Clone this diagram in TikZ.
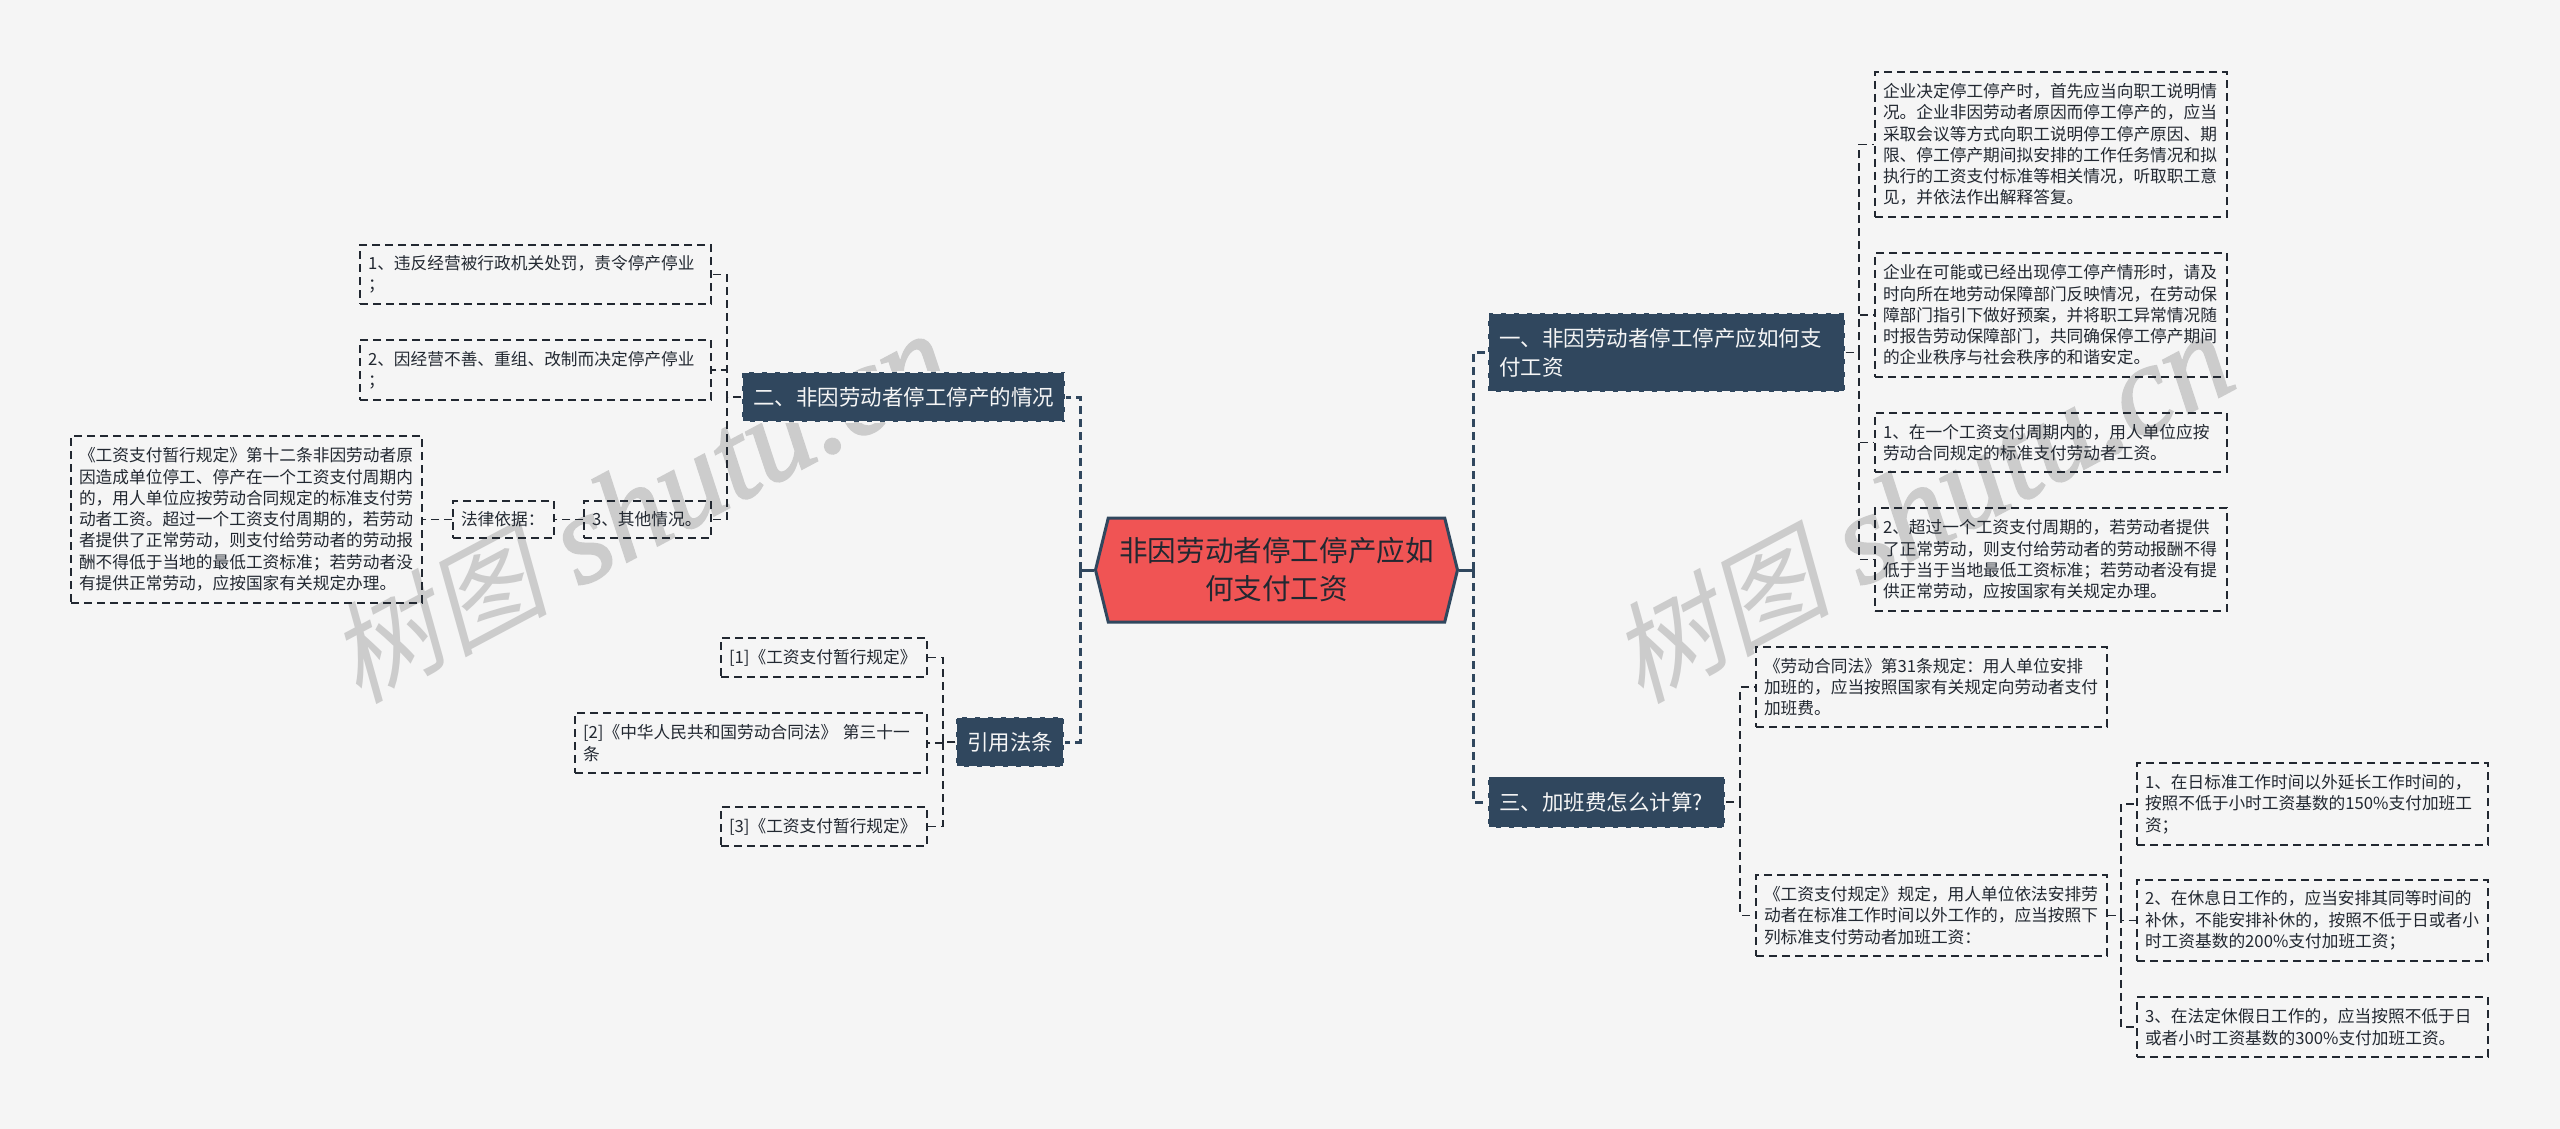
\documentclass[tikz,border=0pt]{standalone}
\usepackage{fontspec}
\setmainfont{Noto Sans CJK SC}
\newfontfamily\wmcjk[FakeSlant=0.22]{Noto Sans CJK SC}
\newfontfamily\wmlat[ItalicFeatures={FakeBold=1.5}]{Liberation Serif}
\usetikzlibrary{calc,shapes.symbols}
\definecolor{bgc}{HTML}{F5F5F5}
\definecolor{navy}{HTML}{30475E}
\definecolor{redc}{HTML}{F05454}
\definecolor{inkc}{HTML}{222831}
\definecolor{wmc}{HTML}{CCCCCC}
\newcommand{\zc}{^^^^ff0c}
\newcommand{\zm}{^^^^ff1a}
\newcommand{\zs}{^^^^ff1b}
\tikzset{
  leafbox/.style 2 args={draw=inkc,line width=1.4pt,dash pattern=on 8pt off 5pt,
    inner xsep=8pt,inner ysep=0pt,text width=#1pt-16pt,minimum height=#2pt,align=left,
    text=inkc,font=\fontsize{16.7pt}{21.3pt}\selectfont},
  branchbox/.style 2 args={fill=navy,draw=bgc,line width=1.5pt,dash pattern=on 8pt off 5pt,
    inner xsep=11pt,inner ysep=0pt,text width=#1pt-22pt,minimum height=#2pt,align=left,
    text=bgc,font=\fontsize{21.5pt}{29pt}\selectfont},
  rootbox/.style={signal,signal to=east and west,signal pointer angle=152.4,
    fill=redc,draw=navy,line width=3pt,inner sep=0pt,minimum width=362pt,minimum height=104pt,
    align=center,text=inkc,font=\fontsize{28.6pt}{38pt}\selectfont},
  leafline/.style={draw=inkc,line width=1.8pt,dash pattern=on 8pt off 5pt},
  mainline/.style={draw=navy,line width=3pt,dash pattern=on 8pt off 5pt},
  rootstub/.style={draw=navy,line width=3pt},
  watermark/.style={text=wmc,inner sep=0pt,anchor=base west,rotate=28}
}
\newcommand{\elbowR}[2]{\draw[leafline] (#1.east) -| ($(#2.west)+(-15,0)$) -- (#2.west);}
\newcommand{\elbowL}[2]{\draw[leafline] (#1.west) -| ($(#2.east)+(15,0)$) -- (#2.east);}
\newcommand{\wmtext}{{\wmcjk\fontsize{110pt}{110pt}\selectfont 树图}\hspace{30pt}{\wmlat\itshape\fontsize{128pt}{128pt}\selectfont shutu.cn}}
\begin{document}
\begin{tikzpicture}[x=1pt,y=-1pt]
\fill[bgc] (0,0) rectangle (2560,1129);
\useasboundingbox (0,0) rectangle (2560,1129);
% watermarks
\node[watermark] (wm1) at (358,705) {\wmtext};
\node[watermark] (wm2) at (1640,705) {\wmtext};
% root
\node[rootbox] (root) at (1276.5,570) {非因劳动者停工停产应如\\何支付工资};
\coordinate (trunkR) at (1473,570);
\coordinate (trunkL) at (1080,570);
% branches
\node[branchbox={357}{79}] (one) at (1666.5,352.5) {一、非因劳动者停工停产应如何支\\付工资};
\node[branchbox={237}{51}] (three) at (1606.5,802) {三、加班费怎么计算?};
\node[branchbox={323}{50}] (two) at (903.5,397) {二、非因劳动者停工停产的情况};
\node[branchbox={108}{50}] (refs) at (1010,742) {引用法条};
% right leaves
\node[leafbox={352}{145}] (a1) at (2051,144.5) {企业决定停工停产时\zc{}首先应当向职工说明情\\况。企业非因劳动者原因而停工停产的\zc{}应当\\采取会议等方式向职工说明停工停产原因、期\\限、停工停产期间拟安排的工作任务情况和拟\\执行的工资支付标准等相关情况\zc{}听取职工意\\见\zc{}并依法作出解释答复。};
\node[leafbox={352}{124}] (a2) at (2051,315) {企业在可能或已经出现停工停产情形时\zc{}请及\\时向所在地劳动保障部门反映情况\zc{}在劳动保\\障部门指引下做好预案\zc{}并将职工异常情况随\\时报告劳动保障部门\zc{}共同确保停工停产期间\\的企业秩序与社会秩序的和谐安定。};
\node[leafbox={352}{59}] (a3) at (2051,442.5) {1、在一个工资支付周期内的\zc{}用人单位应按\\劳动合同规定的标准支付劳动者工资。};
\node[leafbox={352}{103}] (a4) at (2051,559.5) {2、超过一个工资支付周期的\zc{}若劳动者提供\\了正常劳动\zc{}则支付给劳动者的劳动报酬不得\\低于当于当地最低工资标准\zs{}若劳动者没有提\\供正常劳动\zc{}应按国家有关规定办理。};
\node[leafbox={351}{80}] (b1) at (1931.5,687) {《劳动合同法》第31条规定\zm{}用人单位安排\\加班的\zc{}应当按照国家有关规定向劳动者支付\\加班费。};
\node[leafbox={351}{81}] (b2) at (1931.5,915.5) {《工资支付规定》规定\zc{}用人单位依法安排劳\\动者在标准工作时间以外工作的\zc{}应当按照下\\列标准支付劳动者加班工资\zm{}};
\node[leafbox={351}{82}] (c1) at (2312.5,804) {1、在日标准工作时间以外延长工作时间的\zc{}\\按照不低于小时工资基数的150\%支付加班工\\资\zs{}};
\node[leafbox={351}{81}] (c2) at (2312.5,920.5) {2、在休息日工作的\zc{}应当安排其同等时间的\\补休\zc{}不能安排补休的\zc{}按照不低于日或者小\\时工资基数的200\%支付加班工资\zs{}};
\node[leafbox={351}{60}] (c3) at (2312.5,1027) {3、在法定休假日工作的\zc{}应当按照不低于日\\或者小时工资基数的300\%支付加班工资。};
% left leaves
\node[leafbox={351}{59}] (l1) at (535.5,274.5) {1、违反经营被行政机关处罚\zc{}责令停产停业\\\zs{}};
\node[leafbox={351}{60}] (l2) at (535.5,370) {2、因经营不善、重组、改制而决定停产停业\\\zs{}};
\node[leafbox={127}{37}] (l3) at (647.5,519.5) {3、其他情况。};
\node[leafbox={101}{37}] (legal) at (503.5,519.5) {法律依据\zm{}};
\node[leafbox={351}{167}] (long) at (246.5,519.5) {《工资支付暂行规定》第十二条非因劳动者原\\因造成单位停工、停产在一个工资支付周期内\\的\zc{}用人单位应按劳动合同规定的标准支付劳\\动者工资。超过一个工资支付周期的\zc{}若劳动\\者提供了正常劳动\zc{}则支付给劳动者的劳动报\\酬不得低于当地的最低工资标准\zs{}若劳动者没\\有提供正常劳动\zc{}应按国家有关规定办理。};
\node[leafbox={206}{39}] (r1) at (824,657.5) {[1]《工资支付暂行规定》};
\node[leafbox={352}{60}] (r2) at (751,743) {[2]《中华人民共和国劳动合同法》 第三十一\\条};
\node[leafbox={206}{39}] (r3) at (824,826.5) {[3]《工资支付暂行规定》};
% root connectors
\draw[rootstub] (root.east) -- (trunkR);
\draw[rootstub] (root.west) -- (trunkL);
\draw[mainline] (trunkR) |- (one.west);
\draw[mainline] (trunkR) |- (three.west);
\draw[mainline] (trunkL) |- (two.east);
\draw[mainline] (trunkL) |- (refs.east);
% leaf connectors
\elbowR{one}{a1}
\elbowR{one}{a2}
\elbowR{one}{a3}
\elbowR{one}{a4}
\elbowR{three}{b1}
\elbowR{three}{b2}
\elbowR{b2}{c1}
\elbowR{b2}{c2}
\elbowR{b2}{c3}
\elbowL{two}{l1}
\elbowL{two}{l2}
\elbowL{two}{l3}
\draw[leafline] (l3.west) -- (legal.east);
\draw[leafline] (legal.west) -- (long.east);
\elbowL{refs}{r1}
\elbowL{refs}{r2}
\elbowL{refs}{r3}
\end{tikzpicture}
\end{document}
